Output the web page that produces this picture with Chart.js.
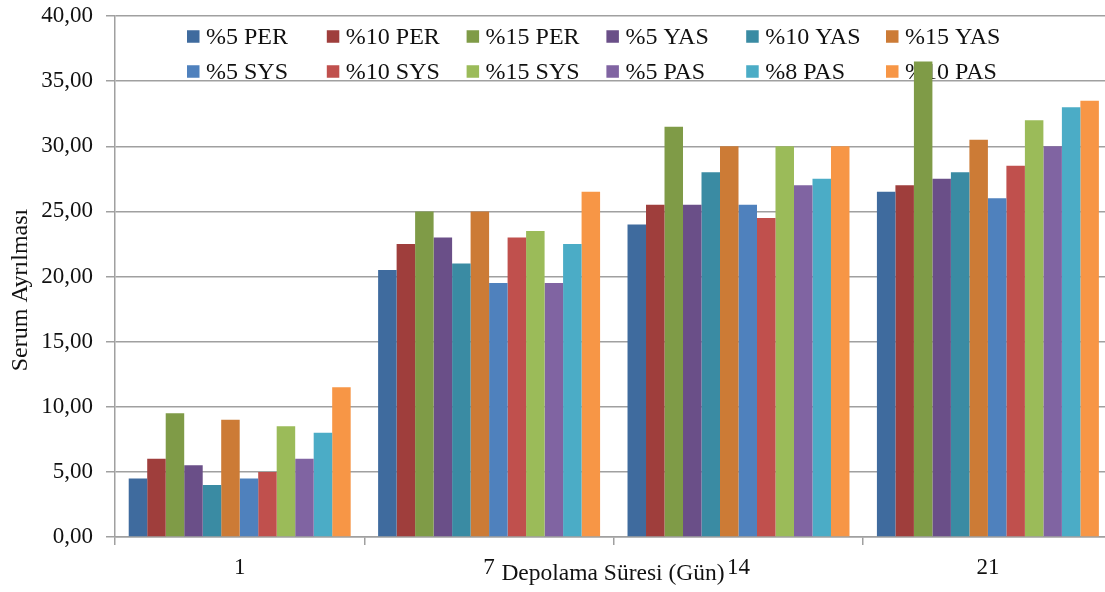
<!DOCTYPE html>
<html>
<head>
<meta charset="utf-8">
<script src="https://cdn.jsdelivr.net/npm/chart.js@4/dist/chart.umd.min.js"></script>
<style>
  html, body { margin: 0; padding: 0; background: #fff; overflow: hidden; }
  #wrap { width: 1105px; height: 592px; overflow: hidden; }
  canvas { display: block; }
</style>
</head>
<body>
<div id="wrap"><canvas id="c" width="1120" height="592"></canvas></div>
<script>
// Storage days
const days = ['1', '7', '14', '21'];

// Serum separation per sample group
const per5  = [4.5, 20.5, 24.0, 26.5];
const per10 = [6.0, 22.5, 25.5, 27.0];
const per15 = [9.5, 25.0, 31.5, 36.5];
const yas5  = [5.5, 23.0, 25.5, 27.5];
const yas10 = [4.0, 21.0, 28.0, 28.0];
const yas15 = [9.0, 25.0, 30.0, 30.5];
const sys5  = [4.5, 19.5, 25.5, 26.0];
const sys10 = [5.0, 23.0, 24.5, 28.5];
const sys15 = [8.5, 23.5, 30.0, 32.0];
const pas5  = [6.0, 19.5, 27.0, 30.0];
const pas8  = [8.0, 22.5, 27.5, 33.0];
const pas10 = [11.5, 26.5, 30.0, 33.5];

const seriesNames = ['%5 PER', '%10 PER', '%15 PER', '%5 YAS', '%10 YAS', '%15 YAS',
                     '%5 SYS', '%10 SYS', '%15 SYS', '%5 PAS', '%8 PAS', '%10 PAS'];
const seriesValues = [per5, per10, per15, yas5, yas10, yas15, sys5, sys10, sys15, pas5, pas8, pas10];
const seriesColors = ['#3F6B9E', '#9F3E3C', '#7F9B47', '#6A4F88', '#3A8BA3', '#CC7B36',
                      '#4F81BD', '#C0504D', '#9BBB59', '#8064A2', '#4BACC6', '#F79646'];

const yTitle = 'Serum Ayrılması';
const xTitle = 'Depolama Süresi (Gün)';

const FONT = "'Liberation Serif', 'Times New Roman', serif";
const GRID = '#a0a0a0';

// Legend drawn inside the plot, two rows of six, underneath the bars
const innerLegend = {
  id: 'innerLegend',
  beforeDatasetsDraw(chart) {
    const ctx = chart.ctx;
    const ds = chart.data.datasets;
    const x0 = 187, dx = 139.8, rows = [36.5, 71.5], box = 12.5;
    ctx.save();
    ctx.font = '24px ' + FONT;
    ctx.textBaseline = 'middle';
    ctx.textAlign = 'left';
    ds.forEach((d, i) => {
      const col = i % 6, row = Math.floor(i / 6);
      const x = x0 + col * dx, y = rows[row];
      ctx.fillStyle = d.backgroundColor;
      ctx.fillRect(x, y - box / 2, box, box);
      ctx.fillStyle = '#111';
      ctx.fillText(d.label, x + 19, y + 1);
    });
    ctx.restore();
  }
};

// Axis titles
const axisTitles = {
  id: 'axisTitles',
  afterDraw(chart) {
    const ctx = chart.ctx;
    ctx.save();
    ctx.fillStyle = '#111';
    ctx.font = '23.5px ' + FONT;
    ctx.textAlign = 'center';
    ctx.textBaseline = 'alphabetic';
    ctx.fillText(xTitle, 613, 580);
    ctx.translate(27, 290);
    ctx.rotate(-Math.PI / 2);
    ctx.font = '24px ' + FONT;
    ctx.fillText(yTitle, 0, 0);
    ctx.restore();
  }
};

new Chart(document.getElementById('c'), {
  type: 'bar',
  data: {
    labels: days,
    datasets: seriesNames.map((name, i) => ({
      label: name,
      data: seriesValues[i],
      backgroundColor: seriesColors[i],
      borderWidth: 0,
      categoryPercentage: 0.89,
      barPercentage: 1.0
    }))
  },
  options: {
    responsive: false,
    animation: false,
    devicePixelRatio: 1,
    layout: { padding: { top: 16, right: 7.4, left: 0, bottom: 0 } },
    plugins: { legend: { display: false }, tooltip: { enabled: false } },
    scales: {
      x: {
        afterFit(s) { s.height = 55; s.paddingLeft = 0; s.paddingRight = 0; },
        grid: { offset: true, drawOnChartArea: false, drawTicks: true, tickLength: 8, color: GRID, lineWidth: 1.5 },
        border: { color: GRID, width: 1.5 },
        ticks: { font: { family: FONT, size: 23 }, color: '#111', padding: 9, maxRotation: 0 }
      },
      y: {
        min: 0, max: 40,
        afterFit(s) { s.width = 115; s.paddingTop = 0; s.paddingBottom = 0; },
        grid: { color: GRID, lineWidth: 1.5, drawTicks: true, tickLength: 9 },
        border: { color: GRID, width: 1.5 },
        ticks: {
          stepSize: 5,
          font: { family: FONT, size: 23 },
          color: '#111',
          padding: 13,
          callback: v => v.toFixed(2).replace('.', ',')
        }
      }
    }
  },
  plugins: [innerLegend, axisTitles]
});
</script>
</body>
</html>
